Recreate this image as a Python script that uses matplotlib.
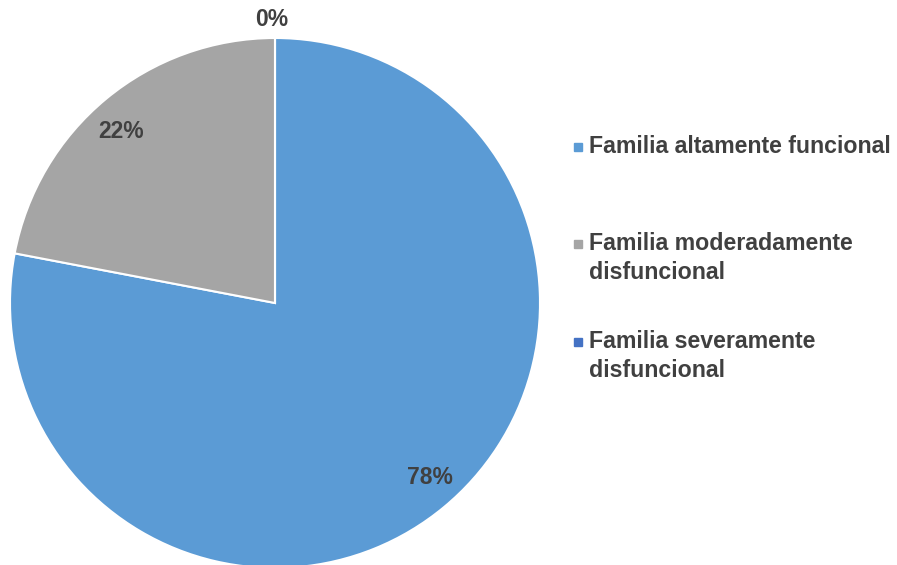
import matplotlib.pyplot as plt
from matplotlib.patches import Rectangle

categories = ["Familia altamente funcional",
              "Familia moderadamente\ndisfuncional",
              "Familia severamente\ndisfuncional"]
values = [78, 22, 0]
colors = ["#5B9BD5", "#A5A5A5", "#4472C4"]

TEXT_COLOR = "#404040"
W, H = 897, 565
CX, CY, R = 275, H - 303, 265

plt.rcParams["font.family"] = ["Liberation Sans", "DejaVu Sans"]

fig = plt.figure(figsize=(W / 100, H / 100), dpi=100)
ax = fig.add_axes([0, 0, 1, 1])

wedges, texts, autotexts = ax.pie(
    values,
    colors=colors,
    startangle=90,
    counterclock=False,
    center=(CX, CY),
    radius=R,
    autopct="%1.0f%%",
    pctdistance=0.87,
    wedgeprops={"edgecolor": "white", "linewidth": 1.5},
    textprops={"color": TEXT_COLOR, "fontsize": 16.5, "fontweight": "bold"},
    frame=True,
)
ax.set_xlim(0, W)
ax.set_ylim(0, H)
ax.set_aspect("equal")
ax.axis("off")

# Excel-style label nudges
autotexts[0].set_position((CX + 155, CY - 174))
autotexts[1].set_position((CX - 154, CY + 171))
# zero slice label sits just outside the rim at the top
autotexts[2].set_position((CX - 3, CY + 1.07 * R))

# legend drawn by hand so the swatch lines up with the first line of text
legend_y = [H - 147, H - 244, H - 342]
for label, col, y in zip(categories, colors, legend_y):
    ax.add_patch(Rectangle((574, y - 4), 8, 8, color=col))
    ax.text(589, y + 12, label, color=TEXT_COLOR, fontsize=16.7,
            fontweight="bold", va="top", ha="left", linespacing=1.35)

fig.savefig("out.png", dpi=100)
